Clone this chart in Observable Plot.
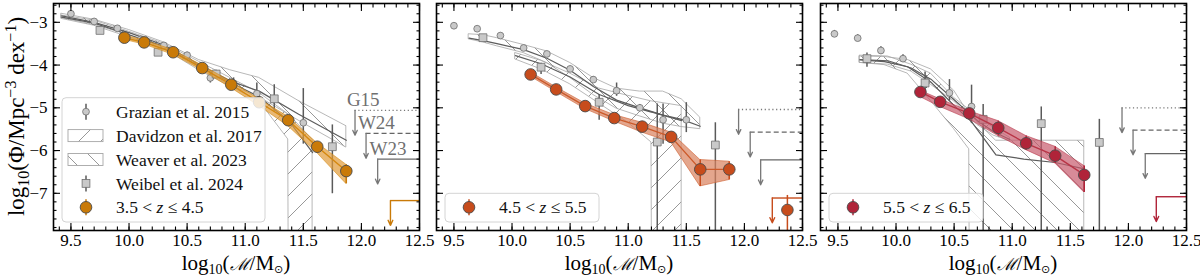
<!DOCTYPE html>
<html><head><meta charset="utf-8">
<script src="https://cdn.jsdelivr.net/npm/d3@7"></script>
<script src="https://cdn.jsdelivr.net/npm/@observablehq/plot@0.6"></script>
<style>
body{margin:0;background:#fff;}
#wrap{position:relative;width:1200px;height:276px;overflow:hidden;background:#fff;}
.pan{position:absolute;top:0;height:276px;}
.pan svg{background:transparent !important;overflow:visible;}
</style></head><body>
<svg width="0" height="0" style="position:absolute"><defs>
<pattern id="hatchF" patternUnits="userSpaceOnUse" width="22" height="22"><path d="M-5.5,5.5L5.5,-5.5M0,22L22,0M16.5,27.5L27.5,16.5" stroke="#858585" stroke-width="0.85" fill="none"/></pattern>
<pattern id="hatchB" patternUnits="userSpaceOnUse" width="22" height="22"><path d="M-5.5,16.5L5.5,27.5M0,0L22,22M16.5,-5.5L27.5,5.5" stroke="#858585" stroke-width="0.85" fill="none"/></pattern>
</defs></svg>
<div id="wrap"></div>
<script>
// ---------------- DATA ----------------
const xTicks = [9.5, 10.0, 10.5, 11.0, 11.5, 12.0, 12.5];
const yTicks = [-7, -6, -5, -4, -3];
const limitNames = ["G15", "W24", "W23"];
const zLabels = [["3.5", "4.5"], ["4.5", "5.5"], ["5.5", "6.5"]];

// this work
const p1Mass = [9.96, 10.13, 10.38, 10.63, 10.88, 11.12, 11.37, 11.62, 11.87];
const p1Phi  = [-3.36, -3.47, -3.70, -4.07, -4.46, -4.87, -5.29, -5.91, -6.48];
const p1Lo   = [-3.41, -3.52, -3.76, -4.13, -4.54, -4.96, -5.43, -6.06, -6.78];
const p1Hi   = [-3.31, -3.42, -3.65, -4.01, -4.39, -4.80, -5.21, -5.83, -6.33];
const p2Mass = [10.16, 10.38, 10.63, 10.88, 11.12, 11.37, 11.62, 11.87];
const p2Phi  = [-4.22, -4.57, -4.96, -5.24, -5.44, -5.68, -6.44, -6.44];
const p2Lo   = [-4.27, -4.63, -5.03, -5.32, -5.58, -5.81, -6.84, -6.69];
const p2Hi   = [-4.17, -4.52, -4.90, -5.17, -5.35, -5.58, -6.22, -6.26];
const p2ExtraMass = [12.37];
const p2ExtraPhi  = [-7.39];
const p2ExtraLo   = [-9.0];
const p2ExtraHi   = [-7.05];
const p3Mass = [10.21, 10.38, 10.63, 10.88, 11.12, 11.37, 11.62];
const p3Phi  = [-4.63, -4.86, -5.13, -5.47, -5.83, -6.12, -6.57];
const p3Lo   = [-4.75, -4.98, -5.27, -5.66, -5.99, -6.30, -6.98];
const p3Hi   = [-4.60, -4.80, -5.08, -5.31, -5.66, -5.91, -6.36];
// this-work upper limits
const ownLimMass = [12.25, 12.24, 12.24];
const ownLimPhi  = [-7.17, -7.11, -7.08];
// literature limits (G15, W24, W23) per panel
const p1LimMass = [11.945, 12.04, 12.14];
const p1LimPhi  = [-5.06, -5.60, -6.20];
const p2LimMass = [11.95, 12.05, 12.14];
const p2LimPhi  = [-5.04, -5.57, -6.22];
const p3LimMass = [11.945, 12.04, 12.145];
const p3LimPhi  = [-5.00, -5.52, -6.07];

// Grazian et al. 2015
const g1Mass = [9.5, 9.7, 9.9, 10.1, 10.3, 10.5, 10.7, 10.9, 11.1, 11.5];
const g1Phi  = [-2.80, -2.98, -3.14, -3.40, -3.54, -3.77, -4.30, -4.43, -4.67, -5.35];
const g1Lo   = [-2.87, -3.05, -3.21, -3.46, -3.61, -3.85, -4.42, -4.57, -4.92, -5.85];
const g1Hi   = [-2.74, -2.92, -3.08, -3.34, -3.48, -3.70, -4.19, -4.30, -4.42, -4.55];
const g2Mass = [9.5, 9.7, 9.9, 10.1, 10.3, 10.5, 10.7, 10.9, 11.1, 11.3, 11.5];
const g2Phi  = [-3.08, -3.15, -3.31, -3.60, -3.74, -4.09, -4.34, -4.60, -5.00, -5.28, -5.28];
const g2Lo   = [-3.14, -3.21, -3.37, -3.66, -3.80, -4.15, -4.41, -4.73, -5.08, -5.85, -5.58];
const g2Hi   = [-3.02, -3.09, -3.25, -3.54, -3.68, -4.03, -4.27, -4.42, -4.92, -4.91, -4.88];
const g3Mass = [9.47, 9.67, 9.87, 10.06, 10.26, 10.46, 10.65];
const g3Phi  = [-3.27, -3.37, -3.66, -3.85, -4.38, -4.65, -4.97];
const g3Lo   = [-3.35, -3.45, -3.74, -3.93, -4.55, -4.84, -5.37];
const g3Hi   = [-3.19, -3.29, -3.57, -3.76, -4.25, -4.34, -4.47];

// Weibel et al. 2024
const wb1Mass = [9.75, 10.25, 10.75, 11.25, 11.75];
const wb1Phi  = [-3.19, -3.70, -4.21, -4.79, -5.91];
const wb1Lo   = [-3.23, -3.78, -4.30, -5.08, -7.01];
const wb1Hi   = [-3.15, -3.62, -4.12, -4.46, -5.40];
const wb2Mass = [9.75, 10.25, 10.75, 11.25, 11.75];
const wb2Phi  = [-3.36, -4.05, -4.87, -5.80, -5.87];
const wb2Lo   = [-3.42, -4.22, -5.29, -9.0, -9.0];
const wb2Hi   = [-3.30, -3.96, -4.69, -4.91, -5.35];
const wb3Mass = [9.75, 10.25, 10.75, 11.25, 11.75];
const wb3Phi  = [-3.85, -4.42, -5.27, -5.37, -5.81];
const wb3Lo   = [-4.05, -4.69, -9.0, -9.0, -9.0];
const wb3Hi   = [-3.72, -4.16, -4.92, -4.98, -5.27];

// Davidzon et al. 2017 (band + median)
const d1Mass = [9.42, 9.7, 10.0, 10.3, 10.6, 10.87, 11.12, 11.37, 11.375, 11.58];
const d1Hi   = [-2.84, -2.96, -3.22, -3.50, -3.92, -4.30, -4.65, -5.15, -5.15, -5.75];
const d1Lo   = [-2.92, -3.08, -3.35, -3.62, -4.12, -4.50, -4.84, -5.74, -9.0, -9.0];
const d1Med  = [-2.88, -3.02, -3.29, -3.56, -4.02, -4.40, -4.74, -5.30, -5.30, -6.05];
const d2Mass = [10.03, 10.25, 10.5, 10.75, 11.0, 11.2, 11.205, 11.46];
const d2Hi   = [-3.72, -3.90, -4.20, -4.55, -4.72, -4.85, -4.85, -4.96];
const d2Lo   = [-3.87, -4.10, -4.45, -4.90, -5.35, -5.81, -9.0, -9.0];
const d2Med  = [-3.78, -3.97, -4.28, -4.69, -4.95, -5.10, -5.10, -5.30];
const d3Mass = [9.69, 9.93, 10.13, 10.3, 10.5, 10.7, 10.84, 10.98];
const d3Hi   = [-3.78, -3.80, -3.99, -4.20, -4.77, -5.19, -5.47, -5.70];
const d3Lo   = [-3.95, -3.99, -4.15, -4.46, -4.85, -5.40, -5.65, -5.78];
const d3Med  = [-3.87, -3.90, -4.07, -4.33, -4.81, -5.30, -5.56, -5.74];

// Weaver et al. 2023 (band + median)
const w1Mass = [9.42, 9.7, 10.0, 10.3, 10.6, 10.87, 11.12, 11.46, 11.87];
const w1Hi   = [-2.80, -2.94, -3.18, -3.47, -3.88, -4.12, -4.30, -4.84, -5.43];
const w1Lo   = [-2.90, -3.06, -3.30, -3.60, -4.07, -4.48, -4.75, -5.30, -5.93];
const w1Med  = [-2.85, -3.00, -3.24, -3.53, -3.98, -4.37, -4.61, -5.15, -5.76];
const w2Mass = [9.63, 9.75, 9.87, 10.1, 10.3, 10.5, 10.7, 10.9, 11.1, 11.3, 11.46, 11.62];
const w2Hi   = [-3.28, -3.30, -3.37, -3.53, -3.68, -3.95, -4.30, -4.55, -4.62, -4.62, -4.80, -5.23];
const w2Lo   = [-3.40, -3.47, -3.56, -3.72, -3.95, -4.30, -4.70, -5.02, -5.20, -5.37, -5.45, -5.50];
const w2Med  = [-3.37, -3.43, -3.50, -3.64, -3.84, -4.12, -4.50, -4.82, -5.00, -5.17, -5.27, -5.43];
const w3Mass = [9.69, 9.9, 10.1, 10.3, 10.5, 10.63, 10.635, 10.86, 11.1, 11.37, 11.62];
const w3Hi   = [-3.80, -3.81, -3.88, -4.10, -4.60, -5.15, -5.15, -5.77, -5.77, -5.77, -5.77];
const w3Lo   = [-3.95, -4.00, -4.20, -4.84, -5.50, -5.97, -9.0, -9.0, -9.0, -9.0, -9.0];
const w3Med  = [-3.88, -3.92, -4.04, -4.40, -4.95, -5.27, -5.27, -6.10, -6.20, -6.28, -6.43];

// ---------------- STYLE / LAYOUT ----------------
const FONT = "'Liberation Serif', 'DejaVu Serif', serif";
const PW = 366, H = 276, MT = 3, MB = 46, PAD = 15;
const frameLefts = [53, 436.3, 819.6];
const colors = [
  {dot: "#c97a08", band: "#e09a38", line: "#d4880f"},
  {dot: "#c74c1c", band: "#d9805c", line: "#cc5a2a"},
  {dot: "#b02439", band: "#c75a6c", line: "#b83446"}
];
const GRAY_ERR = "#5a5a5a", GRAY_FILL = "#c9c9c9", GRAY_EDGE = "#6e6e6e";
const ENV = "#a6a6a6", MED = "#5c5c5c";
const limStyles = [
  {strokeDasharray: "1.2,2.6", stroke: "#777"},
  {strokeDasharray: "5,3", stroke: "#666"},
  {stroke: "#666"}
];

const zip = (m, cols) => m.map((v, i) => { const o = {m: v}; for (const k in cols) o[k] = cols[k][i]; return o; });

const panels = [
  {own: zip(p1Mass, {y: p1Phi, lo: p1Lo, hi: p1Hi}), extra: [],
   lim: zip(p1LimMass, {y: p1LimPhi, name: limitNames}),
   graz: zip(g1Mass, {y: g1Phi, lo: g1Lo, hi: g1Hi}),
   weib: zip(wb1Mass, {y: wb1Phi, lo: wb1Lo, hi: wb1Hi}),
   dav: zip(d1Mass, {hi: d1Hi, lo: d1Lo, med: d1Med}),
   wea: zip(w1Mass, {hi: w1Hi, lo: w1Lo, med: w1Med})},
  {own: zip(p2Mass, {y: p2Phi, lo: p2Lo, hi: p2Hi}),
   extra: zip(p2ExtraMass, {y: p2ExtraPhi, lo: p2ExtraLo, hi: p2ExtraHi}),
   lim: zip(p2LimMass, {y: p2LimPhi, name: limitNames}),
   graz: zip(g2Mass, {y: g2Phi, lo: g2Lo, hi: g2Hi}),
   weib: zip(wb2Mass, {y: wb2Phi, lo: wb2Lo, hi: wb2Hi}),
   dav: zip(d2Mass, {hi: d2Hi, lo: d2Lo, med: d2Med}),
   wea: zip(w2Mass, {hi: w2Hi, lo: w2Lo, med: w2Med})},
  {own: zip(p3Mass, {y: p3Phi, lo: p3Lo, hi: p3Hi}), extra: [],
   lim: zip(p3LimMass, {y: p3LimPhi, name: limitNames}),
   graz: zip(g3Mass, {y: g3Phi, lo: g3Lo, hi: g3Hi}),
   weib: zip(wb3Mass, {y: wb3Phi, lo: wb3Lo, hi: wb3Hi}),
   dav: zip(d3Mass, {hi: d3Hi, lo: d3Lo, med: d3Med}),
   wea: zip(w3Mass, {hi: w3Hi, lo: w3Lo, med: w3Med})}
];

const xMinor = d3.range(94, 126, 1).map(v => v / 10);
const yMinor = d3.range(-39, -12, 1).map(v => v / 5);

function buildPanel(k) {
  const P = panels[k], C = colors[k];
  const mL = k === 0 ? 53 : PAD, mR = PAD;
  const W = mL + PW + mR;
  const xMax = xTicks[xTicks.length - 1];
  const ownLim = [{m: ownLimMass[k], y: ownLimPhi[k]}];
  const tk = {tickFormat: () => "", label: null, strokeWidth: 1.1};
  const marks = [
    Plot.area(P.dav, {x1: "m", y1: "lo", y2: "hi", fill: "url(#hatchF)", stroke: ENV, strokeWidth: 0.8, clip: true}),
    Plot.area(P.wea, {x1: "m", y1: "lo", y2: "hi", fill: "url(#hatchB)", stroke: ENV, strokeWidth: 0.8, clip: true}),
    Plot.line(P.dav, {x: "m", y: "med", stroke: MED, strokeWidth: 1.2, clip: true}),
    Plot.line(P.wea, {x: "m", y: "med", stroke: MED, strokeWidth: 1.2, clip: true}),
    ...P.lim.map((L, i) => Plot.ruleY([L], {y: "y", x1: "m", x2: xMax, strokeWidth: 1.3, clip: true, ...limStyles[i]})),
    Plot.arrow(P.lim, {x1: "m", x2: "m", y1: "y", y2: d => d.y - 0.58, stroke: "#777", strokeWidth: 1.3, headLength: 6, headAngle: 50}),
    k === 0 ? Plot.text(P.lim, {x: d => d.m - 0.07, y: d => d.y + 0.24, text: "name", textAnchor: "start", fill: "#707070", stroke: "white", strokeWidth: 3, fontSize: 19, fontFamily: FONT}) : null,
    Plot.ruleY(ownLim, {y: "y", x1: "m", x2: xMax, stroke: C.dot, strokeWidth: 1.4, clip: true}),
    Plot.arrow(ownLim, {x1: "m", x2: "m", y1: "y", y2: d => d.y - 0.58, stroke: C.dot, strokeWidth: 1.4, headLength: 6, headAngle: 50}),
    Plot.ruleX(P.graz, {x: "m", y1: "lo", y2: "hi", stroke: GRAY_ERR, strokeWidth: 1.5, clip: true}),
    Plot.dot(P.graz, {x: "m", y: "y", r: 3.4, fill: GRAY_FILL, stroke: GRAY_EDGE, strokeWidth: 0.8, clip: true}),
    Plot.ruleX(P.weib, {x: "m", y1: "lo", y2: "hi", stroke: GRAY_ERR, strokeWidth: 1.5, clip: true}),
    Plot.dot(P.weib, {x: "m", y: "y", r: 4.4, symbol: "square", fill: GRAY_FILL, stroke: GRAY_EDGE, strokeWidth: 0.8, clip: true}),
    Plot.area(P.own, {x1: "m", y1: "lo", y2: "hi", fill: C.band, fillOpacity: 0.7, stroke: C.line, strokeOpacity: 0.7, strokeWidth: 0.8, clip: true}),
    Plot.line(P.own, {x: "m", y: "y", stroke: C.line, strokeWidth: 1.4, clip: true}),
    Plot.ruleX(P.own, {x: "m", y1: "lo", y2: "hi", stroke: C.dot, strokeWidth: 1.5, clip: true}),
    Plot.ruleX(P.extra, {x: "m", y1: "lo", y2: "hi", stroke: C.dot, strokeWidth: 1.5, clip: true}),
    Plot.dot(P.own, {x: "m", y: "y", r: 5.8, fill: C.dot, stroke: "#4a4a4a", strokeWidth: 0.9, clip: true}),
    Plot.dot(P.extra, {x: "m", y: "y", r: 5.8, fill: C.dot, stroke: "#4a4a4a", strokeWidth: 0.9, clip: true}),
    Plot.frame({stroke: "black", strokeWidth: 1.6}),
    Plot.axisX({...tk, anchor: "bottom", ticks: xMinor, tickSize: -3.5}),
    Plot.axisX({...tk, anchor: "bottom", ticks: xTicks, tickSize: -7}),
    Plot.axisX({...tk, anchor: "top", ticks: xMinor, tickSize: -3.5}),
    Plot.axisX({...tk, anchor: "top", ticks: xTicks, tickSize: -7}),
    Plot.axisY({...tk, anchor: "left", ticks: yMinor, tickSize: -3.5}),
    Plot.axisY({...tk, anchor: "left", ticks: yTicks, tickSize: -7}),
    Plot.axisY({...tk, anchor: "right", ticks: yMinor, tickSize: -3.5}),
    Plot.axisY({...tk, anchor: "right", ticks: yTicks, tickSize: -7}),
    Plot.axisX({anchor: "bottom", ticks: xTicks, tickSize: 0, tickPadding: 3, tickFormat: d => d.toFixed(1), label: null, fontSize: 17, fontFamily: FONT}),
    k === 0 ? Plot.axisY({anchor: "left", ticks: yTicks, tickSize: 0, tickPadding: 6, tickFormat: d => "\u2212" + Math.abs(d), label: null, fontSize: 17, fontFamily: FONT}) : null
  ];
  const chart = Plot.plot({
    width: W, height: H, marginLeft: mL, marginRight: mR, marginTop: MT, marginBottom: MB,
    x: {domain: [9.35, xMax]}, y: {domain: [-7.87, -2.56]},
    style: {fontFamily: FONT, fontSize: "16px", background: "transparent", overflow: "visible"},
    marks
  });
  const div = document.createElement("div");
  div.className = "pan";
  div.style.left = (frameLefts[k] - mL) + "px";
  div.style.width = W + "px";
  div.appendChild(chart);
  document.getElementById("wrap").appendChild(div);
  const svg = d3.select(chart);

  // x label
  const cx = mL + PW / 2;
  const xt = svg.append("text").attr("x", cx).attr("y", 270).attr("text-anchor", "middle")
    .attr("font-family", FONT).attr("font-size", 21).attr("fill", "black");
  xt.append("tspan").text("log");
  xt.append("tspan").attr("dy", 4).attr("font-size", 14).text("10");
  xt.append("tspan").attr("dy", -4).text("(");
  xt.append("tspan").attr("font-family", "'DejaVu Serif', serif").attr("font-style", "italic").attr("font-size", 17).text("\u2133");
  xt.append("tspan").text("/M");
  xt.append("tspan").attr("dy", 3).attr("font-size", 11).attr("font-family", "'DejaVu Sans', sans-serif").text("\u2299");
  xt.append("tspan").attr("dy", -3).text(")");

  if (k === 0) {
    const yt = svg.append("text").attr("transform", `translate(24,${MT + (H - MT - MB) / 2}) rotate(-90)`)
      .attr("text-anchor", "middle").attr("font-family", FONT).attr("font-size", 23).attr("fill", "black");
    yt.append("tspan").text("log");
    yt.append("tspan").attr("dy", 5).attr("font-size", 16).text("10");
    yt.append("tspan").attr("dy", -5).text("(\u03A6/Mpc");
    yt.append("tspan").attr("dy", -8).attr("font-size", 16).text("\u22123");
    yt.append("tspan").attr("dy", 8).text(" dex");
    yt.append("tspan").attr("dy", -8).attr("font-size", 16).text("\u22121");
    yt.append("tspan").attr("dy", 8).text(")");
  }

  // legend
  const fl = mL;
  const rowH = 23.9, lastRow = 207.3;
  const items = k === 0 ? ["graz", "dav", "wea", "weib", "own"] : ["own"];
  const top = lastRow - rowH * (items.length - 1) - 14;
  const g = svg.append("g").attr("text-anchor", "start");
  g.append("rect").attr("x", fl + 9).attr("y", top).attr("width", k === 0 ? 203 : 154).attr("height", 222 - top)
    .attr("rx", 4).attr("fill", "white").attr("fill-opacity", 0.82).attr("stroke", "#d4d4d4").attr("stroke-width", 1);
  const mx = fl + 33, tx = fl + 63;
  items.forEach((it, i) => {
    const yy = lastRow - rowH * (items.length - 1 - i);
    if (it === "graz" || it === "weib" || it === "own") {
      const col = it === "own" ? C.dot : GRAY_ERR;
      g.append("line").attr("x1", mx).attr("x2", mx).attr("y1", yy - 8).attr("y2", yy + 8).attr("stroke", col).attr("stroke-width", 1.5);
      if (it === "graz") g.append("circle").attr("cx", mx).attr("cy", yy).attr("r", 3.4).attr("fill", GRAY_FILL).attr("stroke", GRAY_EDGE).attr("stroke-width", 0.8);
      if (it === "weib") g.append("rect").attr("x", mx - 3.9).attr("y", yy - 3.9).attr("width", 7.8).attr("height", 7.8).attr("fill", GRAY_FILL).attr("stroke", GRAY_EDGE).attr("stroke-width", 0.8);
      if (it === "own") g.append("circle").attr("cx", mx).attr("cy", yy).attr("r", 5.8).attr("fill", C.dot).attr("stroke", "#4a4a4a").attr("stroke-width", 0.9);
    } else {
      g.append("rect").attr("x", fl + 15).attr("y", yy - 6).attr("width", 35).attr("height", 12)
        .attr("fill", it === "dav" ? "url(#hatchF)" : "url(#hatchB)").attr("stroke", ENV).attr("stroke-width", 0.9);
    }
    const t = g.append("text").attr("x", tx).attr("y", yy).attr("dy", "0.35em").attr("text-anchor", "start")
      .attr("font-family", FONT).attr("font-size", 17.5).attr("fill", "#111");
    if (it === "graz") t.text("Grazian et al. 2015");
    if (it === "dav") t.text("Davidzon et al. 2017");
    if (it === "wea") t.text("Weaver et al. 2023");
    if (it === "weib") t.text("Weibel et al. 2024");
    if (it === "own") {
      t.append("tspan").text(zLabels[k][0] + " < ");
      t.append("tspan").attr("font-style", "italic").text("z");
      t.append("tspan").text(" \u2264 " + zLabels[k][1]);
    }
  });
}
[0, 1, 2].forEach(buildPanel);
</script>
</body></html>
